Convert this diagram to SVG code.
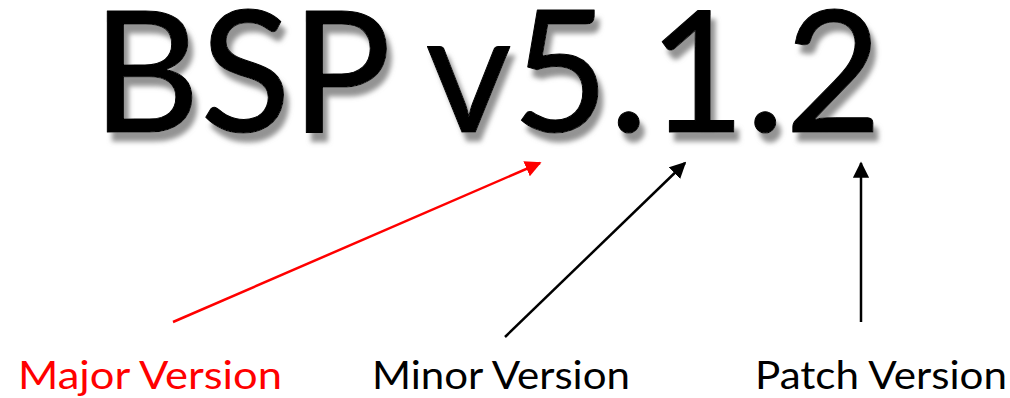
<svg xmlns="http://www.w3.org/2000/svg" width="1010" height="398" viewBox="0 0 1010 398">
  <style>
    .title { font-family: Lato, "Open Sans", sans-serif; font-size: 168px; fill: #000; stroke: #000; stroke-width: 1; stroke-linejoin: round; }
    .label { font-family: Lato, "Open Sans", sans-serif; font-size: 39px; }
    .conn { fill: none; stroke-width: 2.5; }
  </style>
  <defs>
    <filter id="shadow" x="-10%" y="-20%" width="120%" height="150%">
      <feGaussianBlur in="SourceAlpha" stdDeviation="2.5" result="b"/>
      <feOffset in="b" dx="5" dy="9" result="o"/>
      <feFlood flood-color="#808080" flood-opacity="0.85"/>
      <feComposite in2="o" operator="in" result="s"/>
      <feMerge>
        <feMergeNode in="s"/>
        <feMergeNode in="SourceGraphic"/>
      </feMerge>
    </filter>
    <marker id="arrRed" viewBox="0 0 10 10" refX="9" refY="5" markerWidth="6.5" markerHeight="6.5" orient="auto" markerUnits="strokeWidth">
      <path d="M0,0 L10,5 L0,10 z" fill="#ff0000"/>
    </marker>
    <marker id="arrBlack" viewBox="0 0 10 10" refX="9" refY="5" markerWidth="6.5" markerHeight="6.5" orient="auto" markerUnits="strokeWidth">
      <path d="M0,0 L10,5 L0,10 z" fill="#000"/>
    </marker>
  </defs>

  <g id="title">
    <text class="title" x="92" y="132" textLength="790" lengthAdjust="spacingAndGlyphs" filter="url(#shadow)">BSP v5.1.2</text>
  </g>

  <g id="connectors">
    <line class="conn" x1="173" y1="322" x2="540" y2="163" stroke="#ff0000" marker-end="url(#arrRed)"/>
    <line class="conn" x1="505" y1="337" x2="685" y2="163" stroke="#000" marker-end="url(#arrBlack)"/>
    <line class="conn" x1="861" y1="322" x2="861" y2="163" stroke="#000" marker-end="url(#arrBlack)"/>
  </g>

  <g id="major">
    <text class="label" x="18" y="389" fill="#ff0000" textLength="264" lengthAdjust="spacingAndGlyphs">Major Version</text>
  </g>
  <g id="minor">
    <text class="label" x="372" y="389" fill="#000" textLength="258" lengthAdjust="spacingAndGlyphs">Minor Version</text>
  </g>
  <g id="patch">
    <text class="label" x="755" y="389" fill="#000" textLength="252" lengthAdjust="spacingAndGlyphs">Patch Version</text>
  </g>
</svg>
